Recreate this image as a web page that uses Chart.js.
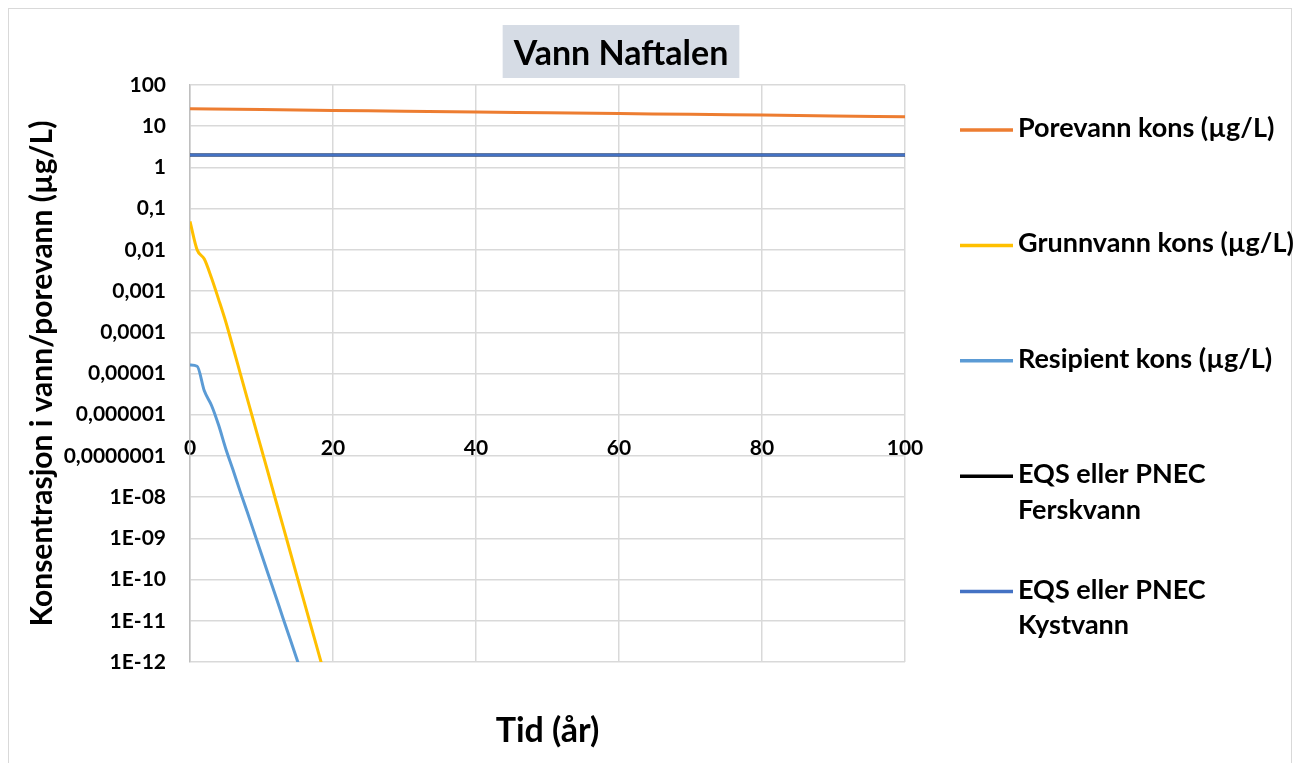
<!DOCTYPE html>
<html>
<head>
<meta charset="utf-8">
<title>Vann Naftalen</title>
<script src="https://cdn.jsdelivr.net/npm/chart.js@4.4.1/dist/chart.umd.min.js"></script>
<style>
  html, body { margin: 0; padding: 0; background: #fff; }
  #wrap { width: 1300px; height: 763px; position: relative; }
</style>
</head>
<body>
<div id="wrap"><canvas id="myChart"></canvas></div>
<script>
'use strict';
// chart data

const chartTitle = 'Vann Naftalen';
const xTitle = 'Tid (år)';
const yTitle = 'Konsentrasjon i vann/porevann (µg/L)';

const seriesNames = [
  ['Porevann kons (µg/L)'],
  ['Grunnvann kons (µg/L)'],
  ['Resipient kons (µg/L)'],
  ['EQS eller PNEC', 'Ferskvann'],
  ['EQS eller PNEC', 'Kystvann']
];
const seriesColors = ['#ED7D31', '#FFC000', '#5B9BD5', '#000000', '#4472C4'];

const poreYears = [0, 10, 20, 30, 40, 50, 60, 70, 80, 90, 100];
const poreValues = [26.4, 25.3, 24.2, 23.1, 22.1, 21.2, 20.3, 19.4, 18.6, 17.8, 17.0];

const grunnYears = [0, 1, 2, 3, 4, 5, 6, 7, 8, 9, 10, 11, 12, 13, 14, 15, 16, 17, 18, 19];
const grunnValues = [0.049, 0.01, 0.006, 0.0021, 6.3e-4, 1.8e-4, 4.4e-5, 1.05e-5, 2.5e-6, 6.0e-7,
  1.45e-7, 3.5e-8, 8.3e-9, 2.0e-9, 4.8e-10, 1.15e-10, 2.75e-11, 6.6e-12, 1.6e-12, 3.8e-13];

const resYears = [0, 1, 2, 3, 4, 5, 6, 7, 8, 9, 10, 11, 12, 13, 14, 15, 16];
const resValues = [1.6e-5, 1.5e-5, 3.8e-6, 1.7e-6, 5.6e-7, 1.5e-7, 4.7e-8, 1.4e-8, 4.4e-9,
  1.35e-9, 4.1e-10, 1.26e-10, 3.9e-11, 1.17e-11, 3.6e-12, 1.1e-12, 3.4e-13];

const eqsYears = [0, 100];
const eqsFerskValues = [2, 2];
const eqsKystValues = [2, 2];

const xTicks = [0, 20, 40, 60, 80, 100];
const yTicks = [1e-12, 1e-11, 1e-10, 1e-9, 1e-8, 1e-7, 1e-6, 1e-5, 1e-4, 1e-3, 1e-2, 0.1, 1, 10, 100];
const yTickLabels = ['1E-12', '1E-11', '1E-10', '1E-09', '1E-08', '0,0000001', '0,000001',
  '0,00001', '0,0001', '0,001', '0,01', '0,1', '1', '10', '100'];

const fontFamily = 'Lato, "Open Sans", sans-serif';
const gridColor = '#D9D9D9';

function toPoints(xs, ys) {
  return xs.map((x, i) => ({ x: x, y: ys[i] }));
}

function makeDataset(i, xs, ys, smooth, order) {
  return {
    label: seriesNames[i].join(' '),
    data: toPoints(xs, ys),
    borderColor: seriesColors[i],
    backgroundColor: seriesColors[i],
    borderWidth: 3,
    pointRadius: 0,
    fill: false,
    cubicInterpolationMode: smooth ? 'monotone' : 'default',
    tension: 0,
    order: order
  };
}

const datasets = [
  makeDataset(0, poreYears, poreValues, true, 0),
  makeDataset(1, grunnYears, grunnValues, true, 0),
  makeDataset(2, resYears, resValues, true, 0),
  makeDataset(3, eqsYears, eqsFerskValues, false, 1),
  makeDataset(4, eqsYears, eqsKystValues, false, 0)
];

// white background + thin outer frame
const framePlugin = {
  id: 'frame',
  beforeDraw(chart) {
    const ctx = chart.ctx;
    ctx.save();
    ctx.fillStyle = '#fff';
    ctx.fillRect(0, 0, chart.width, chart.height);
    ctx.strokeStyle = '#D9D9D9';
    ctx.lineWidth = 1;
    ctx.strokeRect(8.5, 8.5, chart.width - 17, chart.height + 40);
    ctx.restore();
  }
};

// title with shaded box
const titlePlugin = {
  id: 'boxTitle',
  afterDraw(chart) {
    const ctx = chart.ctx;
    ctx.save();
    ctx.font = 'bold 34px ' + fontFamily;
    const w = ctx.measureText(chartTitle).width;
    const cx = 621;
    ctx.fillStyle = '#D6DCE5';
    ctx.fillRect(cx - w / 2 - 11, 25, w + 22, 53);
    ctx.fillStyle = '#000';
    ctx.textAlign = 'center';
    ctx.textBaseline = 'alphabetic';
    ctx.fillText(chartTitle, cx, 65);
    ctx.restore();
  }
};

// legend on the right, spread out like the original
const legendPlugin = {
  id: 'sideLegend',
  afterDraw(chart) {
    const ctx = chart.ctx;
    const area = chart.chartArea;
    ctx.save();
    ctx.font = 'bold 27px ' + fontFamily;
    ctx.textAlign = 'left';
    ctx.textBaseline = 'alphabetic';
    for (let i = 0; i < seriesNames.length; i++) {
      const y = area.top + 45 + i * 115.4;
      ctx.strokeStyle = seriesColors[i];
      ctx.lineWidth = 3.5;
      ctx.beginPath();
      ctx.moveTo(area.right + 55, y);
      ctx.lineTo(area.right + 108, y);
      ctx.stroke();
      ctx.fillStyle = '#000';
      seriesNames[i].forEach((t, k) => {
        ctx.fillText(t, area.right + 113, y + 7 + k * 35.7);
      });
    }
    ctx.restore();
  }
};

const config = {
  type: 'line',
  data: { datasets: datasets },
  options: {
    responsive: true,
    maintainAspectRatio: false,
    animation: false,
    layout: { padding: { left: 8, top: 85, right: 395, bottom: 0 } },
    plugins: {
      legend: { display: false },
      title: { display: false },
      tooltip: { enabled: false }
    },
    scales: {
      x: {
        type: 'linear',
        position: { y: 1e-6 },
        min: 0,
        max: 100,
        afterBuildTicks: (scale) => { scale.ticks = xTicks.map(v => ({ value: v })); },
        ticks: {
          color: '#000',
          font: { family: fontFamily, size: 21, weight: 'bold' },
          padding: 21,
          maxRotation: 0,
          autoSkip: false,
          callback: (v) => String(v)
        },
        grid: { color: gridColor, lineWidth: 1.5, drawTicks: false },
        border: { display: false }
      },
      x2: {
        type: 'linear',
        position: 'bottom',
        min: 0,
        max: 100,
        ticks: { display: false },
        grid: { display: false },
        border: { display: false },
        title: {
          display: true,
          text: xTitle,
          color: '#000',
          font: { family: fontFamily, size: 34, weight: 'bold' },
          padding: { top: 0, bottom: 12 }
        },
        afterFit: (scale) => { scale.height = 101; }
      },
      y: {
        type: 'logarithmic',
        position: 'left',
        min: 1e-12,
        max: 100,
        afterBuildTicks: (scale) => { scale.ticks = yTicks.map(v => ({ value: v })); },
        ticks: {
          color: '#000',
          font: { family: fontFamily, size: 21, weight: 'bold' },
          padding: 24,
          autoSkip: false,
          callback: (v, i) => yTickLabels[i]
        },
        grid: { color: gridColor, lineWidth: 1.5, drawTicks: false },
        border: { display: true, color: '#BFBFBF', width: 1.5 },
        title: {
          display: true,
          text: yTitle,
          color: '#000',
          font: { family: fontFamily, size: 30, weight: 'bold' },
          padding: { top: 16, bottom: 0 }
        },
        afterFit: (scale) => { scale.width = 182; }
      }
    }
  },
  plugins: [framePlugin, titlePlugin, legendPlugin]
};

const chart = document.getElementById('myChart');
const myChart = new Chart(chart, config);
</script>
</body>
</html>
